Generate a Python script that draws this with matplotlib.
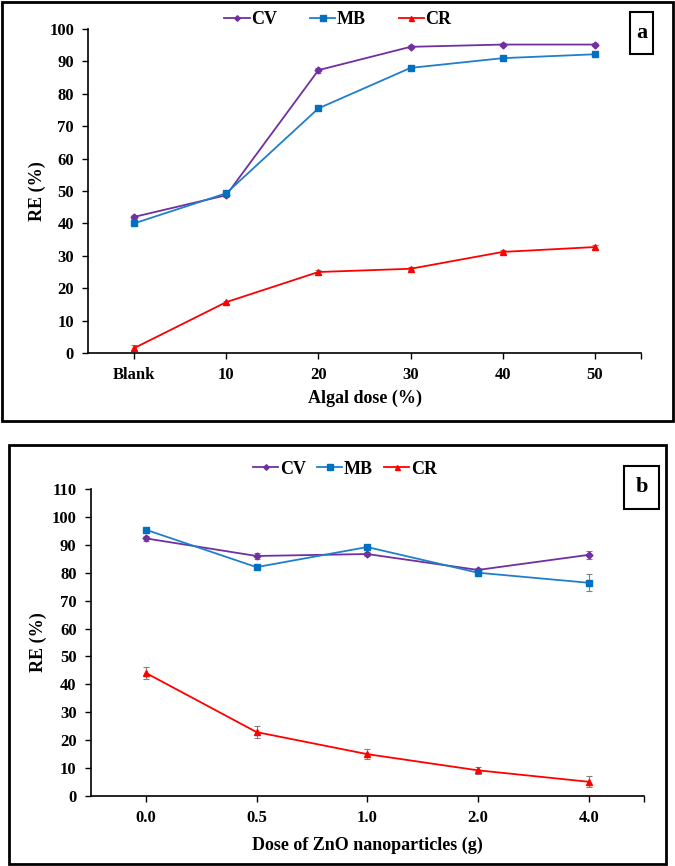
import numpy as np
import matplotlib.pyplot as plt
from matplotlib.patches import Rectangle
from matplotlib.lines import Line2D

plt.rcParams['font.family'] = ['Liberation Serif', 'DejaVu Serif']
plt.rcParams['font.weight'] = 'bold'

# panel a
dose_a = ['Blank', '10', '20', '30', '40', '50']
cv_a = [42.0, 48.7, 87.3, 94.5, 95.2, 95.2]
mb_a = [40.0, 49.3, 75.5, 88.0, 91.0, 92.2]
cr_a = [1.5, 15.7, 25.0, 26.0, 31.2, 32.7]
cv_a_err = [0.5, 0.5, 0.8, 0.5, 0.4, 0.4]
mb_a_err = [0.6, 0.5, 0.6, 0.5, 0.5, 0.5]
cr_a_err = [1.0, 0.5, 0.6, 0.5, 0.6, 0.6]

# panel b
dose_b = ['0.0', '0.5', '1.0', '2.0', '4.0']
cv_b = [92.3, 86.0, 86.7, 81.0, 86.4]
mb_b = [95.4, 82.0, 89.2, 80.0, 76.4]
cr_b = [44.1, 22.9, 15.0, 9.2, 5.1]
cv_b_err = [1.0, 1.2, 0.8, 0.8, 1.5]
mb_b_err = [0.5, 0.5, 0.8, 1.3, 3.1]
cr_b_err = [2.2, 2.1, 1.7, 1.2, 2.0]

colors = {'CV': '#7030A0', 'MB': '#1F7FCC', 'CR': '#FF0000'}
mcolors = {'CV': '#7030A0', 'MB': '#0070C0', 'CR': '#FF0000'}
markers = {'CV': 'D', 'MB': 's', 'CR': '^'}
msizes = {'CV': 3.5, 'MB': 5, 'CR': 4.5}

W, H = 675, 866
fig = plt.figure(figsize=(W / 100, H / 100), dpi=100)


def draw_panel(rect, cats, series, ymax, ystep, xlabel, xlab_y, ylab_x, letter, box,
               leg_y, leg_x, colsp):
    ax = fig.add_axes(rect)
    x = np.arange(len(cats))
    for name, vals, err in series:
        ax.errorbar(x, vals, yerr=err, color=colors[name], marker=markers[name],
                    markersize=msizes[name], markerfacecolor=mcolors[name],
                    markeredgecolor=mcolors[name], lw=1.3, ecolor='#808080',
                    elinewidth=0.8, capsize=2, capthick=0.8)
    ax.set_xlim(-0.5, len(cats) - 0.5)
    ax.set_ylim(0, ymax)
    ax.set_yticks(np.arange(0, ymax + 1, ystep))
    ax.set_xticks(list(x) + [len(cats) - 0.5])
    ax.set_xticklabels(cats + [''])
    ax.spines['top'].set_visible(False)
    ax.spines['right'].set_visible(False)
    ax.spines['left'].set_linewidth(1.2)
    ax.spines['bottom'].set_linewidth(1.2)
    ax.tick_params(direction='out', length=4, width=1, labelsize=12, pad=6)
    for lab in ax.get_xticklabels() + ax.get_yticklabels():
        lab.set_fontweight('bold')
    fig.text(rect[0] + rect[2] / 2, 1 - xlab_y / H, xlabel, ha='center', va='center',
             fontsize=13, fontweight='bold')
    fig.text(ylab_x / W, rect[1] + rect[3] / 2, 'RE (%)', rotation=90, ha='center',
             va='center', fontsize=13, fontweight='bold')
    handles = [Line2D([], [], color=colors[n], marker=markers[n], markersize=msizes[n] * 0.8,
                      markerfacecolor=mcolors[n], markeredgecolor=mcolors[n], lw=1.3)
               for n in ['CV', 'MB', 'CR']]
    leg = ax.legend(handles, ['CV', 'MB', 'CR'], loc='center',
                    bbox_to_anchor=(leg_x, leg_y), bbox_transform=fig.transFigure,
                    ncol=3, frameon=False, fontsize=13, handlelength=1.4,
                    handletextpad=0.1, columnspacing=colsp)
    for t in leg.get_texts():
        t.set_fontweight('bold')
    bx0, by0, bx1, by1 = box
    fig.patches.append(Rectangle((bx0 / W, 1 - by1 / H), (bx1 - bx0) / W, (by1 - by0) / H,
                                 transform=fig.transFigure, fill=False, ec='black', lw=1.5))
    fig.text((bx0 + bx1) / 2 / W, 1 - (by0 + by1) / 2 / H, letter, ha='center',
             va='center', fontsize=16, fontweight='bold')
    return ax


# outer frames
for x0, y0, x1, y1 in [(2, 2, 673, 421), (9, 445, 666, 864)]:
    fig.patches.append(Rectangle((x0 / W, 1 - y1 / H), (x1 - x0) / W, (y1 - y0) / H,
                                 transform=fig.transFigure, fill=False, ec='black', lw=2))

draw_panel([88 / W, 1 - 353 / H, (641 - 88) / W, (353 - 29) / H], dose_a,
           [('CV', cv_a, cv_a_err), ('MB', mb_a, mb_a_err), ('CR', cr_a, cr_a_err)],
           100, 10, 'Algal dose (%)', 398, 37, 'a', (630, 12, 653, 54),
           1 - 20 / H, 338 / W, 1.8)

draw_panel([90.5 / W, 1 - 796 / H, (644 - 90.5) / W, (796 - 489) / H], dose_b,
           [('CV', cv_b, cv_b_err), ('MB', mb_b, mb_b_err), ('CR', cr_b, cr_b_err)],
           110, 10, 'Dose of ZnO nanoparticles (g)', 845, 38, 'b', (624, 466, 659, 509),
           1 - 469 / H, 345 / W, 0.6)

fig.savefig('out.png', dpi=100)
